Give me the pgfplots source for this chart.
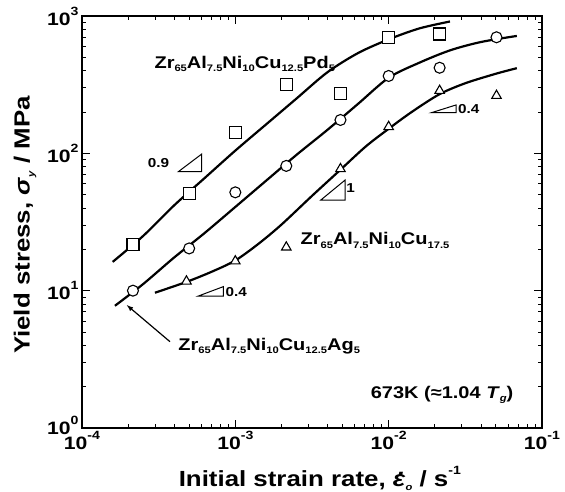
\documentclass[border=0pt]{standalone}
\usepackage{fontspec}
\setmainfont{Liberation Sans}[FakeStretch=1.18]
\usepackage{pgfplots}
\pgfplotsset{compat=1.18}

% measured points
\pgfplotstableread{
x y
2.15e-4 21.7
5e-4 51
1e-3 141
2.15e-3 318
4.85e-3 274
1e-2 700
2.15e-2 740
}\pd
\pgfplotstableread{
x y
2.15e-4 10
5e-4 20.3
1e-3 52
2.15e-3 81
4.85e-3 175
1e-2 366
2.15e-2 420
5.05e-2 700
}\ag
\pgfplotstableread{
x y
4.8e-4 11.7
1e-3 16.4
2.15e-3 20.7
4.85e-3 77
1e-2 156
2.15e-2 286
5.05e-2 263
}\cu

\newcommand{\txt}{\fontsize{17}{20}\selectfont\bfseries}
\newcommand{\sm}{\fontsize{13}{15}\selectfont\bfseries}
\newcommand{\lo}[1]{\raisebox{-0.22em}{\fontsize{9.5}{10}\selectfont #1}}
\newcommand{\hi}[1]{\raisebox{0.55em}{\fontsize{12}{13}\selectfont #1}}
\newcommand{\epsdot}{\textit{\makebox[0pt][l]{\hspace{0.24em}\raisebox{0.5em}{.}}ε}}

\begin{document}
\begin{tikzpicture}
\begin{axis}[
    scale only axis,
    width=460bp, height=412bp,
    xmode=log, ymode=log,
    xmin=1e-4, xmax=1e-1, ymin=1, ymax=1000,
    axis line style={line width=1.3bp},
    tick align=inside,
    major tick length=8bp, minor tick length=4bp,
    every tick/.append style={line width=0.9bp, black},
    xtick={1e-4,1e-3,1e-2,1e-1},
    xticklabels={10\hi{-4},10\hi{-3},10\hi{-2},10\hi{-1}},
    ytick={1,10,100,1000},
    yticklabels={\raisebox{5bp}{10\hi{0}},10\hi{1},10\hi{2},10\hi{3}},
    tick label style={font=\fontsize{18}{20}\selectfont\bfseries},
    label style={font=\fontsize{22}{25}\selectfont\bfseries},
    xlabel={Initial strain rate, \epsdot\lo{\textit{o}} / s\hi{-1}},
    ylabel={Yield stress, \textit{σ}\lo{\textit{y}} / MPa},
    x label style={at={(axis description cs:0.517,-0.141)}, anchor=base},
    y label style={at={(axis description cs:-0.114,0.493)}, anchor=base},
]
% fitted curves
\addplot[line width=2.2bp, smooth] coordinates {
    (1.585e-4,16.2) (2.512e-4,25.1) (3.981e-4,41.7) (6.31e-4,66.1) (1e-3,104.7)
    (1.585e-3,162.2) (2.512e-3,251.2) (3.981e-3,389) (6.31e-3,537) (1e-2,676)
    (1.585e-2,812) (2.512e-2,912)
};
\addplot[line width=2.2bp, smooth] coordinates {
    (1.64e-4,7.76) (2.512e-4,11.2) (3.981e-4,17.4) (6.31e-4,26.3) (1e-3,40.7)
    (1.585e-3,63.1) (2.512e-3,97.7) (3.981e-3,148) (6.31e-3,229) (1e-2,355)
    (1.585e-2,457) (2.512e-2,562) (3.981e-2,646) (6.855e-2,716)
};
\addplot[line width=2.2bp, smooth] coordinates {
    (2.99e-4,9.66) (4.82e-4,11.6) (7.08e-4,13.8) (1e-3,16.6) (1.413e-3,21.9)
    (1.995e-3,30.2) (3.162e-3,49) (4.82e-3,75.5) (7.08e-3,112) (1e-2,151)
    (1.413e-2,200) (2.14e-2,269) (3.162e-2,324) (5.01e-2,380) (6.855e-2,417)
};
% data points
\addplot[only marks, mark=square*, mark size=6bp, mark options={draw=black, fill=white, line width=1.1bp}] table {\pd};
\addplot[only marks, mark=*, mark size=5.5bp, mark options={draw=black, fill=white, line width=1.1bp}] table {\ag};
\addplot[only marks, mark=triangle*, mark size=5.5bp, mark options={draw=black, fill=white, line width=1.1bp}] table {\cu};

% slope triangles
\draw[line width=1bp] (axis cs:4.25e-4,73.5) -- (axis cs:6.04e-4,73.5) -- (axis cs:6.04e-4,98.9) -- cycle;
\node[anchor=east, font=\sm] at (axis cs:3.9e-4,85) {0.9};
\draw[line width=1bp] (axis cs:3.61e-3,45.7) -- (axis cs:5.2e-3,45.7) -- (axis cs:5.2e-3,63.9) -- cycle;
\node[anchor=west, font=\sm, inner sep=1bp] at (axis cs:5.2e-3,56) {1};
\draw[line width=1bp] (axis cs:5.74e-4,9.14) -- (axis cs:8.35e-4,9.14) -- (axis cs:8.35e-4,10.7) -- cycle;
\node[anchor=west, font=\sm, inner sep=2bp] at (axis cs:8.35e-4,9.8) {0.4};
\draw[line width=1bp] (axis cs:1.91e-2,198) -- (axis cs:2.75e-2,198) -- (axis cs:2.75e-2,225) -- cycle;
\node[anchor=west, font=\sm, inner sep=2bp] at (axis cs:2.75e-2,209) {0.4};

% labels
\node[anchor=base west, font=\txt] at (axis cs:2.82e-4,418)
    {Zr\lo{65}Al\lo{7.5}Ni\lo{10}Cu\lo{12.5}Pd\lo{5}};
\node[anchor=base west, font=\txt] at (axis cs:2.53e-3,21.7)
    {Zr\lo{65}Al\lo{7.5}Ni\lo{10}Cu\lo{17.5}};
\node[anchor=base west, font=\txt] at (axis cs:4.04e-4,3.69)
    {Zr\lo{65}Al\lo{7.5}Ni\lo{10}Cu\lo{12.5}Ag\lo{5}};
\draw[-latex, line width=1.2bp] (axis cs:3.75e-4,4.25) -- (axis cs:1.96e-4,7.85);
\node[anchor=base east, font=\txt] at (axis cs:6.86e-2,1.65)
    {673K (≈1.04 \textit{T}\lo{\textit{g}})};
\end{axis}
\pgfresetboundingbox
\path (-82bp,-64bp) rectangle (483bp,428bp);
\end{tikzpicture}
\end{document}
